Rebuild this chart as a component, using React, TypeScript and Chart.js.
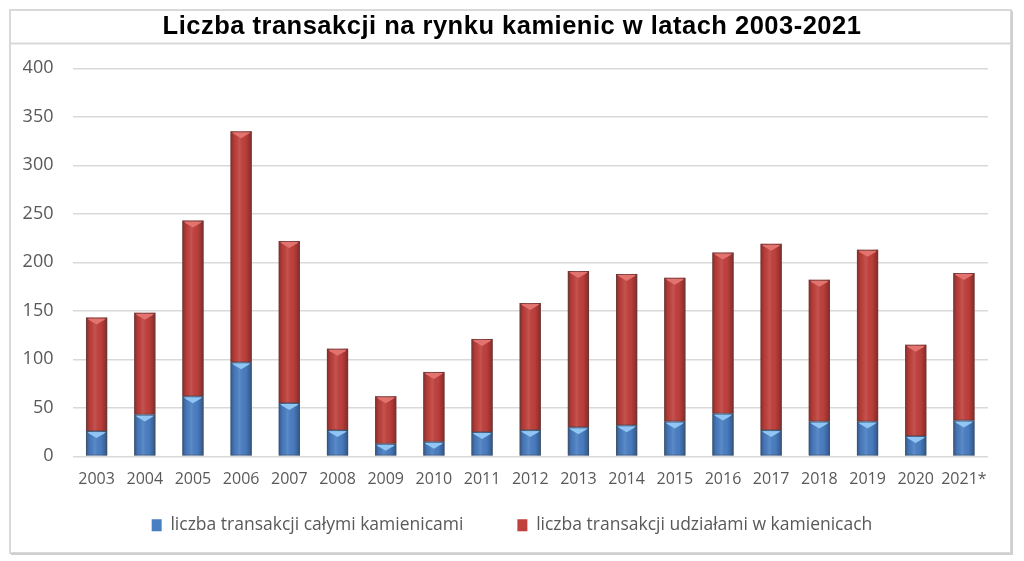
import React, { useEffect, useRef } from "react";
import { Chart, registerables } from "chart.js";

Chart.register(...registerables);

const titleText = "Liczba transakcji na rynku kamienic w latach 2003-2021";
const categories = [
  "2003", "2004", "2005", "2006", "2007", "2008", "2009", "2010", "2011", "2012",
  "2013", "2014", "2015", "2016", "2017", "2018", "2019", "2020", "2021*",
];
const seriesNames = [
  "liczba transakcji całymi kamienicami",
  "liczba transakcji udziałami w kamienicach",
];
const wholeBuildings = [26, 43, 62, 97, 55, 27, 13, 15, 25, 27, 30, 32, 36, 44, 27, 36, 36, 21, 37];
const shareDeals = [117, 105, 181, 238, 167, 84, 49, 72, 96, 131, 161, 156, 148, 166, 192, 146, 177, 94, 152];
const yMin = 0;
const yMax = 400;
const yStep = 50;

const BLUE = "#4a7ec3";
const RED = "#c0403c";
const BLUE_HI = "#8fc6f3";
const RED_HI = "#e2736f";

const framePlugin = {
  id: "frame",
  beforeDraw(chart: any) {
    const ctx = chart.ctx;
    ctx.save();
    ctx.fillStyle = "#ffffff";
    ctx.fillRect(0, 0, chart.width, chart.height);
    ctx.strokeStyle = "#d9d9d9";
    ctx.lineWidth = 2;
    ctx.strokeRect(10, 10, 1001, 543);
    ctx.beginPath();
    ctx.moveTo(10, 43.5);
    ctx.lineTo(1011, 43.5);
    ctx.stroke();
    ctx.strokeStyle = "#cfcfcf";
    ctx.beginPath();
    ctx.moveTo(11, 554);
    ctx.lineTo(1012, 554);
    ctx.lineTo(1012, 11);
    ctx.stroke();
    ctx.restore();
  },
};

// centre title and legend on the whole frame, lift the legend row, space the title letters
const placementPlugin = {
  id: "placement",
  afterLayout(chart: any) {
    const lg = chart.legend;
    if (lg) {
      lg.top -= 41;
      lg.bottom -= 41;
      lg.left = 0;
      lg.right = chart.width;
    }
    const tb = chart.titleBlock;
    if (tb) {
      tb.left = 0;
      tb.right = chart.width;
      if (!tb.__spaced) {
        const orig = tb.draw.bind(tb);
        tb.draw = (...args: any[]) => {
          const ctx = chart.ctx;
          ctx.save();
          (ctx as any).letterSpacing = "0.5px";
          orig(...args);
          ctx.restore();
        };
        tb.__spaced = true;
      }
    }
  },
};

const shadePlugin = {
  id: "barShade",
  afterDatasetsDraw(chart: any) {
    const ctx = chart.ctx;
    ctx.save();
    chart.data.datasets.forEach((ds: any, di: number) => {
      const meta = chart.getDatasetMeta(di);
      const hi = di === 0 ? BLUE_HI : RED_HI;
      meta.data.forEach((el: any) => {
        const { x, y, base, width } = el.getProps(["x", "y", "base", "width"], true);
        const l = x - width / 2;
        const r = x + width / 2;
        const t = Math.min(y, base);
        const b = Math.max(y, base);
        const g = ctx.createLinearGradient(l, 0, r, 0);
        g.addColorStop(0, "rgba(0,0,0,0.30)");
        g.addColorStop(0.18, "rgba(0,0,0,0.06)");
        g.addColorStop(0.42, "rgba(255,255,255,0.10)");
        g.addColorStop(0.7, "rgba(0,0,0,0.02)");
        g.addColorStop(1, "rgba(0,0,0,0.32)");
        ctx.fillStyle = g;
        ctx.fillRect(l, t, width, b - t);
        ctx.fillStyle = hi;
        ctx.beginPath();
        ctx.moveTo(l + 1.5, t + 1);
        ctx.lineTo(r - 1.5, t + 1);
        ctx.lineTo(r - 3, t + 2.5);
        ctx.lineTo(x, t + 7);
        ctx.lineTo(l + 3, t + 2.5);
        ctx.closePath();
        ctx.fill();
        ctx.strokeStyle = "rgba(70,70,70,0.45)";
        ctx.lineWidth = 1;
        ctx.strokeRect(l + 0.5, t + 0.5, width - 1, b - t - 1);
      });
    });
    ctx.restore();
  },
};

export default function App() {
  const ref = useRef<HTMLCanvasElement | null>(null);

  useEffect(() => {
    if (!ref.current) return;
    const chart = new Chart(ref.current, {
      type: "bar",
      data: {
        labels: categories,
        datasets: [
          {
            label: seriesNames[0],
            data: wholeBuildings,
            backgroundColor: BLUE,
            borderWidth: 0,
            categoryPercentage: 1,
            barPercentage: 0.44,
          },
          {
            label: seriesNames[1],
            data: shareDeals,
            backgroundColor: RED,
            borderWidth: 0,
            categoryPercentage: 1,
            barPercentage: 0.44,
          },
        ],
      },
      options: {
        responsive: false,
        animation: false,
        devicePixelRatio: 1,
        layout: { padding: { left: 0, right: 36, top: 0, bottom: -24 } },
        plugins: {
          title: {
            display: true,
            text: titleText,
            color: "#000000",
            font: { family: "'Liberation Sans', Arial, sans-serif", size: 25.5, weight: "bold" },
            padding: { top: 12.1, bottom: 25.6 },
          },
          legend: {
            position: "bottom",
            labels: {
              color: "#595959",
              font: { family: "'Open Sans', sans-serif", size: 17.5 },
              boxWidth: 10,
              boxHeight: 12,
              padding: 54,
            },
          },
          tooltip: { enabled: false },
        },
        scales: {
          x: {
            stacked: true,
            grid: { display: false, drawTicks: false },
            border: { display: false },
            ticks: {
              color: "#595959",
              font: { family: "'Open Sans', sans-serif", size: 16 },
              padding: 14,
              maxRotation: 0,
              autoSkip: false,
            },
          },
          y: {
            stacked: true,
            min: yMin,
            max: yMax,
            ticks: {
              stepSize: yStep,
              color: "#595959",
              font: { family: "'Open Sans', sans-serif", size: 18 },
              padding: 19,
            },
            grid: { color: "#d9d9d9", lineWidth: 1.5, drawTicks: false },
            border: { display: false },
            afterFit: (s: any) => {
              s.width = 72.5;
            },
          },
        },
      },
      plugins: [framePlugin, placementPlugin, shadePlugin],
    });
    return () => chart.destroy();
  }, []);

  return (
    <div style={{ position: "absolute", left: 0, top: 0, width: 1024, height: 561, background: "#fff" }}>
      <canvas ref={ref} width={1024} height={561} style={{ width: 1024, height: 561, display: "block" }} />
    </div>
  );
}
